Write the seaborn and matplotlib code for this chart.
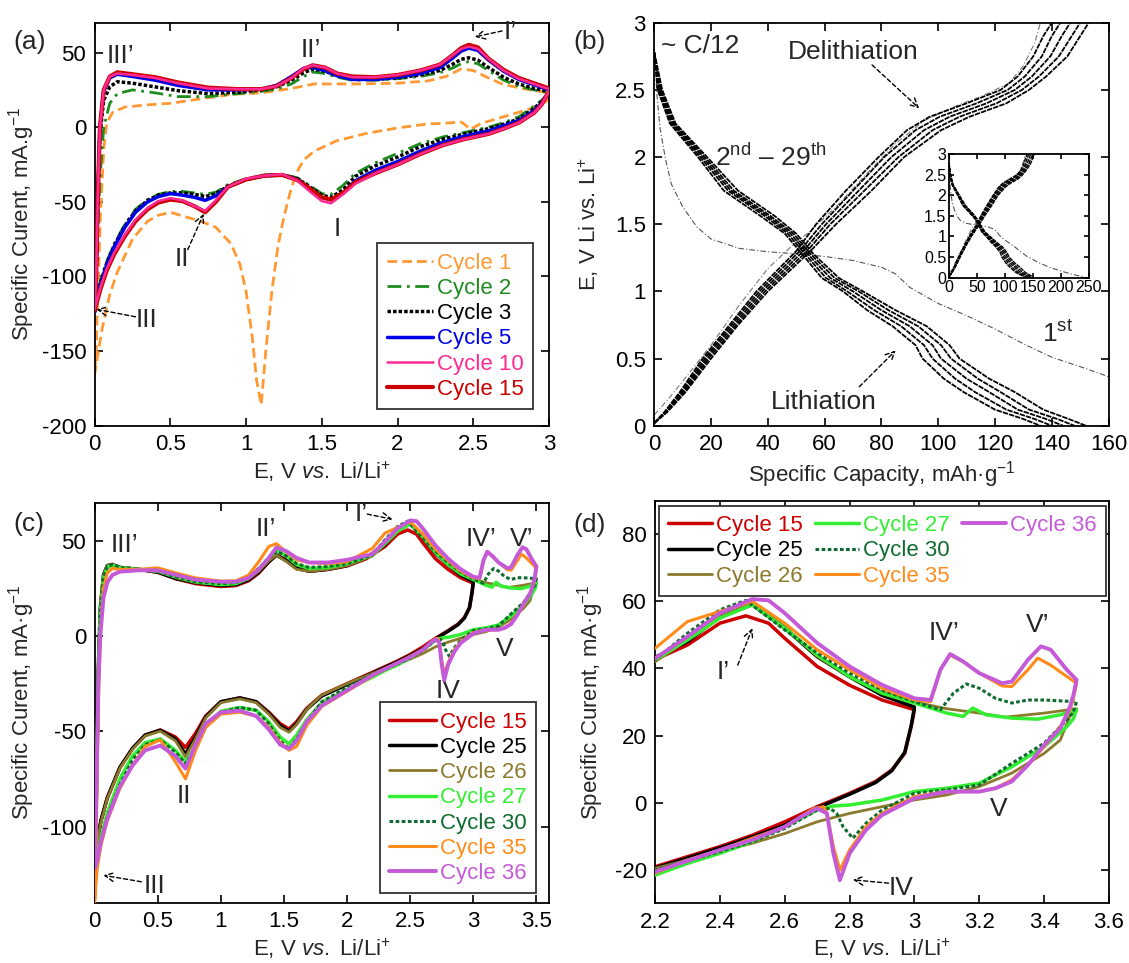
import matplotlib
matplotlib.use("Agg")
import matplotlib.pyplot as plt
import seaborn as sns
from matplotlib.lines import Line2D
from matplotlib.ticker import FormatStrFormatter, MultipleLocator

# ---------------------------------------------------------------- panel (a) data
# cycle 1 (full loop: cathodic 3.0 -> 0, anodic 0 -> 3.0)
a1_E = [3.0, 2.95, 2.85, 2.75, 2.65, 2.55, 2.48, 2.46, 2.42, 2.3, 2.2, 2.0, 1.8, 1.6, 1.45, 1.38, 1.33,
        1.29, 1.25, 1.21, 1.17, 1.13, 1.1, 1.07, 1.04, 1.0, 0.96, 0.9, 0.8, 0.7, 0.6, 0.5, 0.42, 0.35,
        0.25, 0.15, 0.1, 0.05, 0.02, 0.0,
        0.01, 0.025, 0.04, 0.06, 0.08, 0.12, 0.2, 0.35, 0.5, 0.7, 0.9, 1.1, 1.3, 1.45, 1.75, 2.0, 2.2,
        2.32, 2.42, 2.5, 2.6, 2.7, 2.85, 3.0]
a1_I = [19, 15, 11.5, 8.5, 5.5, 2.5, -1.5, 0.5, 3.5, 2.6, 2.2, -0.5, -4, -9, -16, -22, -31,
        -44, -60, -80, -110, -150, -186, -170, -140, -110, -92, -78, -67, -63, -60, -57, -59, -63,
        -75, -97, -112, -135, -153, -166,
        -150, -100, -55, -15, 3, 10, 13.5, 15, 16, 19, 22, 23, 26, 29, 29, 29.5, 31,
        34, 39, 38, 33, 28.5, 25.5, 23]

# common potential grids for cycles 2-15
a_cat_E = [3.0, 2.95, 2.9, 2.8, 2.7, 2.6, 2.44, 2.3, 2.15, 2.0, 1.85, 1.72, 1.64, 1.56, 1.5, 1.42,
           1.34, 1.24, 1.12, 1.0, 0.88, 0.8, 0.73, 0.66, 0.58, 0.5, 0.42, 0.35, 0.27, 0.2, 0.13,
           0.08, 0.04, 0.01, 0.0]
a_an_E = [0.01, 0.02, 0.035, 0.06, 0.1, 0.15, 0.25, 0.4, 0.55, 0.75, 0.95, 1.1, 1.2, 1.3, 1.38,
          1.44, 1.52, 1.6, 1.7, 1.85, 2.0, 2.15, 2.28, 2.36, 2.42, 2.47, 2.53, 2.6, 2.7, 2.8, 2.9, 3.0]

a2_cat = [22, 18, 14, 7, 3, 0, -3.5, -6.5, -11, -17.5, -24, -31, -39, -45, -44.5, -39, -34, -31.5,
          -32, -34.5, -38.5, -43.5, -45, -44, -43, -43, -45, -48.5, -55, -65, -78, -90, -102, -114, -119]
a2_an = [-100, -75, -35, 0, 16, 22.5, 25, 23, 20.5, 20.5, 22.5, 24, 25.5, 29, 34, 37, 36, 33.5, 31.5,
         31.5, 32.5, 34, 36.5, 39.5, 42.5, 44, 42.5, 38, 31.5, 27.5, 25, 23]
a3_cat = [23, 17, 12.5, 5.5, 2, -1, -4.5, -8, -13, -20, -26, -33, -42, -47, -45.5, -40, -34.5, -32,
          -32.5, -35, -39.5, -44.5, -46.5, -45, -44, -44, -45.5, -49, -56, -66, -79, -91, -104, -116, -121]
a3_an = [-100, -50, -5, 18, 27, 30.5, 29.5, 27, 24.5, 22.5, 23.5, 25, 27, 31.5, 36.5, 39, 37.5, 34.5,
         32.5, 32, 33, 35, 38, 42, 45.5, 46.5, 45, 40, 33.5, 29, 26, 24]
a5_cat = [24, 16, 11, 4.5, 1, -2.5, -6, -10, -16, -23, -29, -36, -44, -48.5, -47, -41, -35, -32,
          -32.5, -35, -40, -46, -49, -47, -45.5, -44.5, -46.5, -50, -57, -67, -80, -92, -105, -117, -124]
a5_an = [-100, -50, 0, 24, 33, 35.5, 34, 31.5, 28, 25, 25, 25.5, 28, 34, 39.5, 40, 38, 34.5, 32, 32,
         33.5, 36, 40, 46, 51, 53, 51.5, 45, 37.5, 32, 28.5, 25]
a10_cat = [24, 15, 9.5, 3, -1, -4.5, -8, -12, -18, -25, -31, -38, -45, -51, -49.5, -43, -36, -31.5,
           -32.5, -34.5, -40, -49, -56, -53, -49, -47.5, -49.5, -54, -62, -72, -84, -95, -107, -118, -122]
a10_an = [-100, -50, 0, 25, 34, 36, 35, 33, 29.5, 26, 25.5, 25.5, 27.5, 33, 39.5, 41.5, 40, 36, 33.5,
          33.5, 35, 38, 42, 48, 52.5, 54, 52.5, 46, 38, 32.5, 29, 25.5]
a15_cat = [24, 15, 9.5, 3, -1, -4.5, -8, -12, -18, -25, -31, -37, -44, -48.5, -47, -41, -35.5, -32,
           -32.5, -35, -40, -50, -57, -53, -49.5, -48.5, -50.5, -55, -63, -73, -85, -96, -108, -119, -123]
a15_an = [-100, -50, 0, 25, 34, 36.8, 35.5, 33.5, 30, 26.5, 25.5, 25.5, 27.5, 33, 39, 41.5, 40, 36,
          34, 33.5, 35, 38, 42, 48, 53, 55.2, 53.5, 46, 38.5, 33, 29.5, 26]

# ---------------------------------------------------------------- panel (b) data
b_lith_E = [2.78, 2.5, 2.25, 2.0, 1.75, 1.56, 1.43, 1.28, 1.1, 1.0, 0.86, 0.74, 0.6, 0.5, 0.35, 0.25,
            0.12, 0.05, 0.0]
b_lith_Q1 = [0, 1.2, 5.5, 15.4, 24.5, 37.5, 46, 52, 59, 66.5, 75, 84, 92, 94.5, 102, 109, 120, 130, 136]
b_lith_Q2 = [0, 1.6, 6, 16.2, 26, 39, 47, 53, 60.5, 68, 77.5, 87, 95, 98, 106, 113, 124, 134, 140]
b_lith_Q3 = [0, 2.0, 6.5, 17, 27, 40, 48, 54, 62, 70, 80, 90, 98, 101, 110, 118, 128, 138, 144]
b_lith_Q4 = [0, 2.4, 7, 17.8, 28, 41, 49, 55, 63.5, 72, 82.5, 93, 101, 104.5, 114, 122, 132, 142, 148]
b_lith_Q5 = [0, 2.8, 7.5, 18.6, 29.5, 42.5, 50, 56, 65, 73.5, 85, 96, 104, 107.5, 118, 127, 137, 146, 152]

b_del_E = [0.02, 0.1, 0.25, 0.5, 0.75, 1.0, 1.3, 1.5, 1.75, 2.0, 2.2, 2.3, 2.4, 2.5, 2.6, 2.75, 2.9, 3.0]
b_del_Q1 = [0, 3.5, 9, 17, 26.5, 36, 50, 57, 67.5, 79, 89, 97, 110, 122, 128, 133.5, 137, 140]
b_del_Q2 = [0, 3.8, 9.5, 17.8, 27.2, 37, 51.2, 59, 70, 81, 92, 100.5, 113.5, 124.5, 130.5, 136.5, 140, 143]
b_del_Q3 = [0, 4, 10, 18.5, 28, 38, 52.5, 60.5, 72, 83.5, 95, 104, 117, 127, 133, 139.5, 143.5, 146.5]
b_del_Q4 = [0, 4.2, 10.5, 19.2, 28.8, 39, 53.8, 62, 74, 86, 98, 107.5, 120.5, 129.5, 135.5, 142.5, 147, 150]
b_del_Q5 = [0, 4.5, 11, 20, 29.5, 40, 55, 64, 76.5, 88, 101, 111, 124, 132, 138, 145.5, 150, 153]

b_first_lith_Q = [0, 1, 2, 4, 6, 10, 15, 20, 30, 40, 50, 60, 70, 80, 85, 90, 100, 110, 120, 130, 140,
                  150, 160, 180, 200, 220, 240]
b_first_lith_E = [2.8, 2.45, 2.22, 1.98, 1.8, 1.63, 1.48, 1.39, 1.32, 1.295, 1.28, 1.26, 1.23, 1.18,
                  1.13, 1.03, 0.91, 0.82, 0.72, 0.61, 0.51, 0.44, 0.365, 0.25, 0.16, 0.08, 0.02]
b_first_del_Q = [0, 5, 10, 20, 30, 40, 48, 55, 65, 75, 85, 95, 105, 115, 125, 130, 134, 136]
b_first_del_E = [0.08, 0.2, 0.33, 0.6, 0.9, 1.17, 1.33, 1.45, 1.65, 1.88, 2.1, 2.27, 2.37, 2.45, 2.55,
                 2.68, 2.85, 3.0]

# ---------------------------------------------------------------- panels (c)/(d) data
c_an_E_lo = [0.0, 0.01, 0.02, 0.03, 0.045, 0.07, 0.1, 0.14, 0.2, 0.35, 0.5, 0.65, 0.8, 1.0, 1.12,
             1.22, 1.3, 1.38, 1.44, 1.52, 1.6, 1.7, 1.85, 2.0]
c_cat_E_lo = [2.0, 1.8, 1.68, 1.6, 1.54, 1.47, 1.38, 1.28, 1.15, 1.0, 0.88, 0.8, 0.72, 0.64, 0.52,
              0.4, 0.3, 0.2, 0.1, 0.05, 0.02, 0.0]

c15_an_lo = [-126, -100, -60, -20, 10, 30, 36, 37.5, 36, 35, 33.5, 30, 27.5, 26, 26.5, 29, 33, 39,
             42.5, 40, 36, 34, 35, 36.8]
c25_an_lo = [-128, -100, -55, -15, 15, 32, 37, 37.6, 36, 35, 33.5, 30, 28, 26.5, 27, 29.5, 33.5, 39,
             42.5, 39.5, 35.5, 34, 35, 37]
c26_an_lo = [-129, -102, -55, -15, 15, 32, 37, 37.7, 36, 35, 34, 30.5, 28, 27, 27.5, 30, 34, 39.5,
             42.5, 39, 35, 34, 35, 37]
c27_an_lo = [-132, -105, -60, -20, 12, 30, 36, 37, 36, 35, 34, 31, 28.5, 27, 27.5, 30.5, 35, 41, 45,
             42, 37.5, 35.5, 36, 38]
c30_an_lo = [-135, -105, -60, -20, 12, 31, 36.5, 37.5, 36, 35, 34, 31, 28.5, 27.5, 28, 31, 35.5, 41,
             44.5, 42, 38, 36, 36.5, 38]
c35_an_lo = [-140, -115, -75, -35, 0, 25, 33, 35.5, 35, 35, 35.8, 33, 30.5, 28.8, 29, 32, 39, 47,
             48.5, 44, 40, 38.5, 38, 39]
c36_an_lo = [-122, -95, -60, -25, 0, 20, 28, 32, 33.8, 34.5, 34.5, 32, 29.6, 28.5, 28.5, 30.5, 35,
             41, 46.5, 44.5, 41, 38.6, 38.6, 40]

c15_cat_lo = [-25, -31, -38, -45, -48.8, -46, -40, -34.5, -32.5, -34.5, -42, -51, -58.5, -53, -49.3,
              -52, -59, -69, -85, -97, -108, -126]
c25_cat_lo = [-25.5, -31.5, -38.5, -46, -50, -47, -40.5, -34.5, -32.5, -34.5, -42.5, -53, -62, -54,
              -49.5, -52, -59, -69, -85, -97, -108, -128]
c26_cat_lo = [-25, -31, -38.5, -46.5, -50.5, -48, -41, -35, -33, -35, -43, -54, -63.5, -55, -50,
              -52.5, -59.5, -69.5, -85.5, -98, -109, -129]
c27_cat_lo = [-28, -35, -44, -52, -56.6, -53, -45, -39, -37.5, -39.5, -47, -58, -66, -60, -54, -56,
              -63, -75, -93, -106, -118, -132]
c30_cat_lo = [-27, -34.5, -45, -54, -59.2, -55, -46, -39, -37.5, -40, -48, -59, -67, -61, -54.5, -57,
              -65, -78, -95, -108, -120, -135]
c35_cat_lo = [-29, -37, -47, -58, -60, -56, -48, -42, -40, -41, -48, -60, -75, -66, -54.5, -58, -68,
              -80, -97, -110, -122, -140]
c36_cat_lo = [-28.5, -36.5, -45, -55, -59.2, -57, -49, -42, -39.2, -40, -46, -57, -69.6, -63, -57.5,
              -60, -68, -79, -96, -108, -118, -122]

c15_an_hi_E = [2.15, 2.3, 2.4, 2.48, 2.55, 2.6, 2.7, 2.8, 2.9, 3.0]
c15_an_hi = [40.5, 47, 53.5, 55.7, 53.5, 49, 40.6, 35, 30.6, 27.7]
c15_cat_hi_E = [2.99, 2.97, 2.93, 2.88, 2.8, 2.7, 2.6, 2.5, 2.4, 2.3, 2.2]
c15_cat_hi = [22.7, 14.7, 9.75, 6.3, 2.8, -1.2, -5.7, -9.7, -13.1, -16.1, -19.1]

c25_an_hi_E = [2.15, 2.3, 2.4, 2.5, 2.6, 2.7, 2.8, 2.9, 3.0]
c25_an_hi = [41, 48, 55.5, 59, 52, 43.5, 37.5, 32, 28.5]
c25_cat_hi_E = [2.99, 2.97, 2.93, 2.88, 2.8, 2.7, 2.6, 2.5, 2.4, 2.3, 2.2]
c25_cat_hi = [23, 15, 9.5, 6, 2.5, -1.6, -6.7, -10.2, -13.5, -16.5, -19.5]

c26_an_hi_E = [2.2, 2.3, 2.4, 2.5, 2.6, 2.7, 2.8, 2.9, 3.0, 3.1, 3.2, 3.28, 3.4, 3.5]
c26_an_hi = [42, 48.5, 55.5, 59.5, 52.5, 43.6, 37.6, 33, 30, 28, 26.7, 25.5, 26.7, 28]
c26_cat_hi_E = [3.48, 3.45, 3.4, 3.3, 3.2, 3.1, 3.0, 2.9, 2.8, 2.7, 2.6, 2.5, 2.4, 2.3, 2.2]
c26_cat_hi = [26, 18.7, 14.7, 8.8, 4.8, 2.3, 0.8, -1.2, -3.2, -5.7, -9.2, -12.1, -14.6, -17.1, -19.6]

c27_an_hi_E = [2.2, 2.3, 2.4, 2.5, 2.6, 2.7, 2.8, 2.9, 3.0, 3.1, 3.15, 3.18, 3.22, 3.3, 3.38, 3.45, 3.5]
c27_an_hi = [42.6, 48.5, 55, 59, 52, 44, 37.6, 32.6, 29.7, 26.7, 25.7, 28.2, 26.2, 25.2, 24.9, 26.2, 27.7]
c27_cat_hi_E = [3.49, 3.47, 3.4, 3.3, 3.2, 3.1, 3.0, 2.9, 2.8, 2.75, 2.7, 2.6, 2.5, 2.4, 2.3, 2.2]
c27_cat_hi = [25, 22.7, 16.7, 10.7, 5.8, 4.3, 3.3, 0.8, -0.7, -1, -2.2, -7.2, -11.6, -15.1, -18.1, -21.6]

c30_an_hi_E = [2.2, 2.3, 2.4, 2.48, 2.6, 2.7, 2.8, 2.9, 3.0, 3.08, 3.12, 3.16, 3.2, 3.25, 3.3, 3.35,
               3.4, 3.5]
c30_an_hi = [42.6, 50.5, 57.5, 60.3, 51.5, 44.6, 38.6, 33.6, 30.1, 27.7, 32.6, 35.4, 34.1, 31.1, 29.7,
             30.6, 30.6, 30.1]
c30_cat_hi_E = [3.49, 3.47, 3.4, 3.3, 3.2, 3.1, 3.0, 2.9, 2.85, 2.81, 2.78, 2.76, 2.74, 2.7, 2.6, 2.5,
                2.4, 2.2]
c30_cat_hi = [27, 24.7, 17.7, 11.7, 5.3, 3.8, 2.8, -2.2, -6.2, -10.6, -7.2, -3.2, -1.7, -2.2, -7.7,
              -11.6, -14.6, -20.1]

c35_an_hi_E = [2.2, 2.3, 2.35, 2.4, 2.5, 2.6, 2.7, 2.8, 2.9, 3.0, 3.05, 3.08, 3.11, 3.15, 3.2, 3.27,
               3.3, 3.35, 3.38, 3.42, 3.47, 3.5]
c35_an_hi = [46, 54, 55.5, 57, 60, 53.5, 45.6, 39.6, 34.1, 30.6, 30.1, 39.6, 44, 42, 38.6, 34.8, 34.6,
             39.6, 43.1, 41, 37.6, 35.6]
c35_cat_hi_E = [3.49, 3.48, 3.45, 3.4, 3.35, 3.3, 3.25, 3.2, 3.1, 3.0, 2.9, 2.85, 2.8, 2.77, 2.75,
                2.73, 2.72, 2.69, 2.6, 2.5, 2.4, 2.3, 2.2]
c35_cat_hi = [31, 27.7, 22.7, 16.7, 11.2, 6.8, 4.3, 3.3, 3.3, 1.8, -3.2, -7.2, -14.1, -20.1, -13.1,
              -3.2, -1.2, -1.7, -7.2, -10.6, -14.1, -17.1, -21]

c36_an_hi_E = [2.2, 2.3, 2.4, 2.5, 2.55, 2.6, 2.7, 2.8, 2.9, 3.0, 3.05, 3.08, 3.11, 3.15, 3.2, 3.27,
               3.3, 3.35, 3.39, 3.42, 3.47, 3.5]
c36_an_hi = [43, 49.5, 56.5, 60.7, 60.3, 56.5, 47.6, 40.6, 35.1, 31.1, 30.6, 39.6, 44.3, 42.1, 38.6,
             35.6, 36.1, 42.6, 46.6, 45.6, 39.6, 36.6]
c36_cat_hi_E = [3.49, 3.48, 3.45, 3.4, 3.35, 3.3, 3.25, 3.2, 3.1, 3.0, 2.9, 2.85, 2.8, 2.77, 2.75,
                2.73, 2.7, 2.65, 2.6, 2.5, 2.4, 2.2]
c36_cat_hi = [32, 28.7, 22.2, 17.2, 11.2, 6.3, 4.3, 3.3, 3.3, 1.3, -3.7, -8.2, -15.1, -23.1, -15.1,
              -3.2, -1.7, -4.2, -7.2, -11.1, -14.1, -20.6]

# ---------------------------------------------------------------- styling
sns.set_theme(style="ticks")
plt.rcParams['font.family'] = ['Liberation Sans', 'DejaVu Sans']
plt.rcParams['mathtext.fontset'] = 'custom'
plt.rcParams['mathtext.rm'] = 'Liberation Sans'
plt.rcParams['mathtext.it'] = 'Liberation Sans:italic'
plt.rcParams['mathtext.bf'] = 'Liberation Sans:bold'
plt.rcParams['axes.unicode_minus'] = False
plt.rcParams['axes.linewidth'] = 1.3
plt.rcParams['axes.edgecolor'] = 'black'

FS = 16
FA = 19
FP = 19

fig = plt.figure(figsize=(11.29, 9.63), dpi=100)
axA = fig.add_axes([0.0838, 0.5579, 0.4025, 0.4185])
axB = fig.add_axes([0.5795, 0.5579, 0.4024, 0.4185])
axC = fig.add_axes([0.0838, 0.0626, 0.4025, 0.4154])
axD = fig.add_axes([0.5802, 0.0620, 0.4021, 0.4180])
axI = fig.add_axes([0.8406, 0.7118, 0.1236, 0.1282])


def style(ax, fs=FS, length=6, pad=6):
    ax.tick_params(direction='in', top=True, right=True, length=length, width=1.2,
                   labelsize=fs, pad=pad, colors='black')
    for s in ax.spines.values():
        s.set_linewidth(1.3)
        s.set_color('black')
    ax.xaxis.set_major_formatter(FormatStrFormatter('%g'))
    ax.yaxis.set_major_formatter(FormatStrFormatter('%g'))


def draw(ax, x, y, color, lw, ls='-', z=2):
    sns.lineplot(x=x, y=y, sort=False, estimator=None, ax=ax, color=color, lw=lw,
                 linestyle=ls, zorder=z, legend=False)


def arrow(ax, start, end):
    ax.annotate('', xy=end, xytext=start,
                arrowprops=dict(arrowstyle='->', color='black', lw=1.0, ls=(0, (3, 2)),
                                shrinkA=0, shrinkB=0, mutation_scale=16))


def legend(ax, handles, loc, anchor, ncol=1, hl=2.1, cs=0.75):
    leg = ax.legend(handles=handles, loc=loc, bbox_to_anchor=anchor, ncol=ncol, fontsize=FS,
                    labelcolor='linecolor', frameon=True, fancybox=False, framealpha=1,
                    edgecolor='#333333', handlelength=hl, handletextpad=0.16, labelspacing=0.19,
                    columnspacing=cs, borderpad=0.42, borderaxespad=0)
    leg.get_frame().set_linewidth(1.3)
    return leg


# ---------------------------------------------------------------- (a)
colA = {'1': '#ff9933', '2': '#1e8c1e', '3': '#000000', '5': '#0000e6', '10': '#ff2b95', '15': '#cc0000'}
lsA = {'1': (0, (3.5, 1.8)), '2': (0, (5, 2, 1, 2)), '3': (0, (1, 0.6)), '5': '-', '10': '-', '15': '-'}
lwA = {'1': 2.0, '2': 2.0, '3': 2.5, '5': 2.5, '10': 1.8, '15': 3.0}

draw(axA, a1_E, a1_I, colA['1'], lwA['1'], lsA['1'], z=2)
draw(axA, a_cat_E + a_an_E, a2_cat + a2_an, colA['2'], lwA['2'], lsA['2'], z=3)
draw(axA, a_cat_E + a_an_E, a3_cat + a3_an, colA['3'], lwA['3'], lsA['3'], z=4)
draw(axA, a_cat_E + a_an_E, a5_cat + a5_an, colA['5'], lwA['5'], lsA['5'], z=5)
draw(axA, a_cat_E + a_an_E, a15_cat + a15_an, colA['15'], lwA['15'], lsA['15'], z=6)
draw(axA, a_cat_E + a_an_E, a10_cat + a10_an, colA['10'], lwA['10'], lsA['10'], z=7)

axA.set_xlim(0, 3)
axA.set_ylim(-200, 70)
axA.xaxis.set_major_locator(MultipleLocator(0.5))
axA.yaxis.set_major_locator(MultipleLocator(50))
style(axA)
axA.set_xlabel(r"E, V $\it{vs.}$ Li/Li$^{+}$", fontsize=FS, labelpad=3)
axA.set_ylabel(r"Specific Curent, mA.g$^{-1}$", fontsize=FS, labelpad=3)

hA = [Line2D([], [], color=colA[k], lw=lwA[k], ls=lsA[k], label='Cycle ' + k)
      for k in ['1', '2', '3', '5', '10', '15']]
legend(axA, hA, 'lower right', (0.965, 0.041))

axA.text(0.17, 48, "III’", fontsize=FA, ha='center', va='center')
axA.text(1.43, 52, "II’", fontsize=FA, ha='center', va='center')
axA.text(2.745, 64, "I’", fontsize=FA, ha='center', va='center')
arrow(axA, (2.69, 64.5), (2.51, 60.5))
axA.text(0.575, -88, "II", fontsize=FA, ha='center', va='center')
arrow(axA, (0.615, -82), (0.72, -58))
axA.text(1.6, -68, "I", fontsize=FA, ha='center', va='center')
axA.text(0.34, -129, "III", fontsize=FA, ha='center', va='center')
arrow(axA, (0.27, -127), (0.012, -122))
fig.text(13 / 1129, 1 - 42 / 963, "(a)", fontsize=FP, ha='left', va='center')

# ---------------------------------------------------------------- (b) + inset
band_lith = [b_lith_Q1, b_lith_Q2, b_lith_Q3, b_lith_Q4, b_lith_Q5]
band_del = [b_del_Q1, b_del_Q2, b_del_Q3, b_del_Q4, b_del_Q5]
for ax, lw in [(axB, 1.3), (axI, 1.0)]:
    for q in band_lith:
        draw(ax, q, b_lith_E, 'black', lw, (0, (3, 0.6)), z=3)
    for q in band_del:
        draw(ax, q, b_del_E, 'black', lw, (0, (3, 0.6)), z=3)
    draw(ax, b_first_lith_Q, b_first_lith_E, '#555555', 0.8, (0, (5, 2, 1, 2)), z=2)
    draw(ax, b_first_del_Q, b_first_del_E, '#777777', 0.8, (0, (5, 2, 1, 2)), z=2)

axB.set_xlim(0, 160)
axB.set_ylim(0, 3)
axB.xaxis.set_major_locator(MultipleLocator(20))
axB.yaxis.set_major_locator(MultipleLocator(0.5))
style(axB)
axB.set_xlabel(r"Specific Capacity, mAh·g$^{-1}$", fontsize=FS, labelpad=3)
axB.set_ylabel(r"E, V Li vs. Li$^{+}$", fontsize=FS, labelpad=10)
axB.text(2.5, 2.83, "~ C/12", fontsize=FA, ha='left', va='center')
axB.text(70, 2.78, "Delithiation", fontsize=FA, ha='center', va='center')
arrow(axB, (76.7, 2.686), (93.3, 2.363))
axB.text(21.5, 2.0, r"2$^{\rm nd}$ – 29$^{\rm th}$", fontsize=FA, ha='left', va='center')
axB.text(142, 0.68, r"1$^{\rm st}$", fontsize=FA, ha='center', va='center')
axB.text(59.8, 0.18, "Lithiation", fontsize=FA, ha='center', va='center')
arrow(axB, (72.2, 0.29), (85, 0.56))
fig.text(573 / 1129, 1 - 42 / 963, "(b)", fontsize=FP, ha='left', va='center')

axI.set_xlim(0, 250)
axI.set_ylim(0, 3)
axI.xaxis.set_major_locator(MultipleLocator(50))
axI.yaxis.set_major_locator(MultipleLocator(0.5))
style(axI, fs=11.5, length=3.5, pad=2)
axI.set_xlabel("")
axI.set_ylabel("")
axI.patch.set_facecolor('white')

# ---------------------------------------------------------------- (c) and (d)
colC = {'15': '#cc0000', '25': '#000000', '26': '#8c7a2c', '27': '#33ee33', '30': '#0f6b2f',
        '35': '#ff8c1a', '36': '#c55ad8'}
lsC = {'15': '-', '25': '-', '26': '-', '27': '-', '30': (0, (1.2, 0.8)), '35': '-', '36': '-'}
lwC = {'15': 2.5, '25': 2.5, '26': 2.0, '27': 2.5, '30': 2.2, '35': 2.2, '36': 2.8}

curves = {
    '15': (c_an_E_lo + c15_an_hi_E + c15_cat_hi_E + c_cat_E_lo, c15_an_lo + c15_an_hi + c15_cat_hi + c15_cat_lo),
    '25': (c_an_E_lo + c25_an_hi_E + c25_cat_hi_E + c_cat_E_lo, c25_an_lo + c25_an_hi + c25_cat_hi + c25_cat_lo),
    '26': (c_an_E_lo + c26_an_hi_E + c26_cat_hi_E + c_cat_E_lo, c26_an_lo + c26_an_hi + c26_cat_hi + c26_cat_lo),
    '27': (c_an_E_lo + c27_an_hi_E + c27_cat_hi_E + c_cat_E_lo, c27_an_lo + c27_an_hi + c27_cat_hi + c27_cat_lo),
    '30': (c_an_E_lo + c30_an_hi_E + c30_cat_hi_E + c_cat_E_lo, c30_an_lo + c30_an_hi + c30_cat_hi + c30_cat_lo),
    '35': (c_an_E_lo + c35_an_hi_E + c35_cat_hi_E + c_cat_E_lo, c35_an_lo + c35_an_hi + c35_cat_hi + c35_cat_lo),
    '36': (c_an_E_lo + c36_an_hi_E + c36_cat_hi_E + c_cat_E_lo, c36_an_lo + c36_an_hi + c36_cat_hi + c36_cat_lo),
}
order = ['15', '25', '26', '27', '30', '35', '36']
for ax in (axC, axD):
    for i, k in enumerate(order):
        E, I = curves[k]
        draw(ax, E, I, colC[k], lwC[k], lsC[k], z=2 + i)

axC.set_xlim(0, 3.6)
axC.set_ylim(-140, 70)
axC.set_xticks([0, 0.5, 1, 1.5, 2, 2.5, 3, 3.5])
axC.set_yticks([-100, -50, 0, 50])
style(axC)
axC.set_xlabel(r"E, V $\it{vs.}$ Li/Li$^{+}$", fontsize=FS, labelpad=3)
axC.set_ylabel(r"Specific Curent, mA·g$^{-1}$", fontsize=FS, labelpad=3)

hC = [Line2D([], [], color=colC[k], lw=lwC[k], ls=lsC[k], label='Cycle ' + k) for k in order]
legend(axC, hC, 'lower right', (0.9707, 0.0235))

axC.text(0.24, 48, "III’", fontsize=FA, ha='center', va='center')
axC.text(1.36, 56, "II’", fontsize=FA, ha='center', va='center')
axC.text(2.11, 64, "I’", fontsize=FA, ha='center', va='center')
arrow(axC, (2.16, 64), (2.36, 61.3))
axC.text(3.06, 51, "IV’", fontsize=FA, ha='center', va='center')
axC.text(3.38, 51, "V’", fontsize=FA, ha='center', va='center')
axC.text(3.25, -7, "V", fontsize=FA, ha='center', va='center')
axC.text(2.8, -29, "IV", fontsize=FA, ha='center', va='center')
axC.text(0.71, -84, "II", fontsize=FA, ha='center', va='center')
axC.text(1.54, -71, "I", fontsize=FA, ha='center', va='center')
axC.text(0.475, -131, "III", fontsize=FA, ha='center', va='center')
arrow(axC, (0.37, -129), (0.07, -125.6))
fig.text(13 / 1129, 1 - 524 / 963, "(c)", fontsize=FP, ha='left', va='center')

axD.set_xlim(2.2, 3.6)
axD.set_ylim(-30, 90)
axD.set_xticks([2.2, 2.4, 2.6, 2.8, 3.0, 3.2, 3.4, 3.6])
axD.set_yticks([-20, 0, 20, 40, 60, 80])
style(axD)
axD.set_xlabel(r"E, V $\it{vs.}$ Li/Li$^{+}$", fontsize=FS, labelpad=3)
axD.set_ylabel(r"Specific Curent, mA·g$^{-1}$", fontsize=FS, labelpad=6)

blank = Line2D([], [], color='none', lw=0, label=' ')
hD = hC[:6] + [hC[6], blank, blank]
legend(axD, hD, 'upper left', (0.008, 0.9876), ncol=3, hl=2.0, cs=0.55)

axD.text(2.41, 39, "I’", fontsize=FA, ha='center', va='center')
arrow(axD, (2.455, 41), (2.5, 52))
axD.text(3.09, 50.5, "IV’", fontsize=FA, ha='center', va='center')
axD.text(3.38, 53, "V’", fontsize=FA, ha='center', va='center')
axD.text(3.26, -2, "V", fontsize=FA, ha='center', va='center')
axD.text(2.96, -25.5, "IV", fontsize=FA, ha='center', va='center')
arrow(axD, (2.92, -24), (2.81, -23))
fig.text(573 / 1129, 1 - 525 / 963, "(d)", fontsize=FP, ha='left', va='center')

fig.savefig("out.png", dpi=100)
